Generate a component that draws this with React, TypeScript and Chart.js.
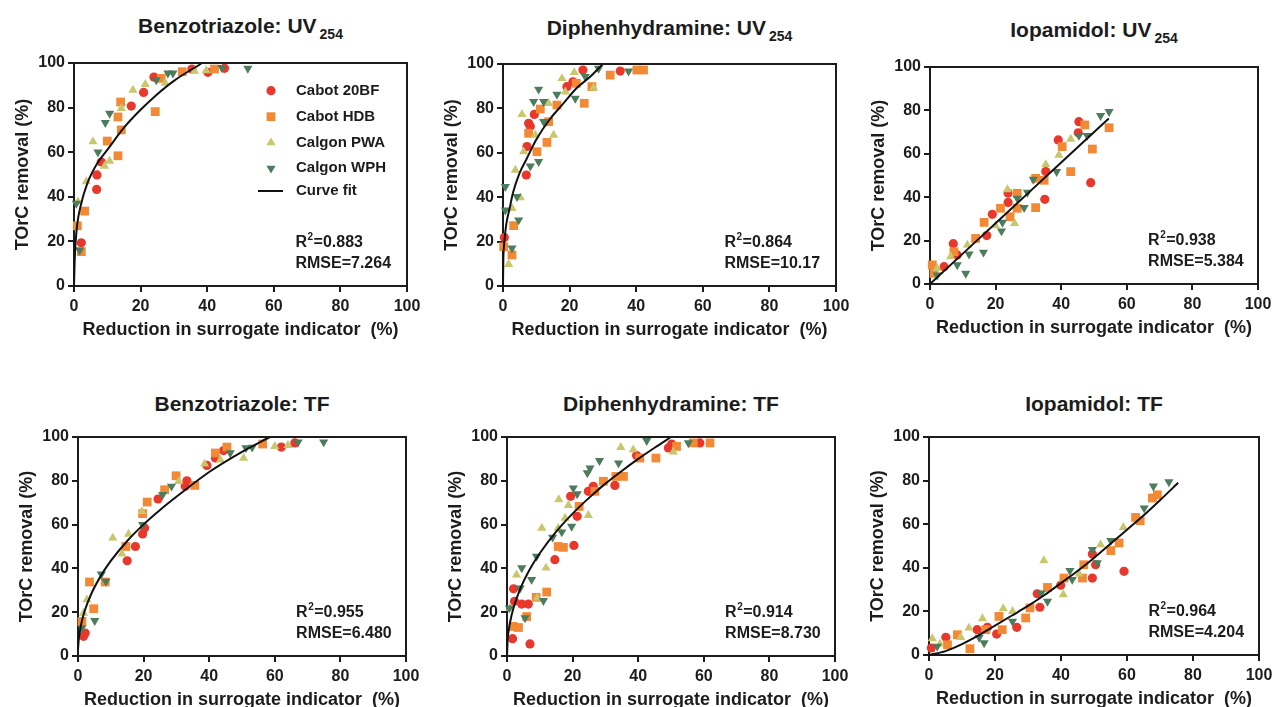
import React, { useEffect, useRef } from "react";
import { Chart, registerables } from "chart.js";
Chart.register(...registerables);

const FONT = "'Liberation Sans', Arial, Helvetica, sans-serif";
const INK = "#1c1c1c";

const SERIES_NAMES = ["Cabot 20BF", "Cabot HDB", "Calgon PWA", "Calgon WPH"];
const SERIES_COLORS = ["#E8372B", "#F28A35", "#C9C66C", "#4D7B5D"];
const FIT_NAME = "Curve fit";
const X_TICKS = [0, 20, 40, 60, 80, 100];
const Y_TICKS = [0, 20, 40, 60, 80, 100];
const X_TITLE = "Reduction in surrogate indicator  (%)";
const Y_TITLE = "TOrC removal (%)";

// ---------- Benzotriazole: UV254 ----------
const btzUV_20BF = [[2.2,19.4],[6.8,43.3],[6.9,49.8],[8.2,55.6],[17.2,80.7],[20.9,86.8],[24,93.7],[35.4,97.3],[40.2,95.8],[45.2,97.6]];
const btzUV_HDB = [[1,27],[2.2,15.4],[3.2,33.6],[10,65],[13.2,58.4],[13.2,75.8],[14,82.5],[14.2,70],[24.4,78.2],[26.2,93.1],[32.5,96.1],[42.2,97.3]];
const btzUV_PWA = [[1.2,37.8],[3.7,46.8],[5.7,64.7],[9.2,53.8],[10.7,56],[14.2,79.7],[17.7,87.9],[21.4,90.4],[27.4,91],[36.2,96.4],[39.7,96.6]];
const btzUV_WPH = [[0.7,37],[1.7,16.1],[7.2,60],[9.4,73.2],[10.7,77.4],[24.7,92.4],[28.2,95.4],[29.7,95.4],[44.4,97.9],[52.2,97.6]];
const btzUV_fitX = [0,0.2,0.5,1,2,4,7,10,15,20,25,30,38.5];
const btzUV_fitY = [0,11,20,28,36,46,55,61,71,79,86,92,100];

// ---------- Diphenhydramine: UV254 ----------
const dphUV_20BF = [[0.4,21.8],[7,50],[7.2,62.8],[7.7,73.3],[8.2,71.8],[9.4,77.3],[19.2,89.8],[21,92],[24,97.3],[35.2,96.8]];
const dphUV_HDB = [[0.2,17.7],[2.7,14],[3.2,27.2],[7.7,68.8],[10.2,60.5],[11.2,79.7],[13.2,64.7],[13.7,74],[16.2,81.5],[22,91.3],[24.4,82.3],[26.7,89.8],[32.2,95],[40.2,97.3],[42.2,97.3]];
const dphUV_PWA = [[1.7,9.8],[2.7,35],[3.7,52.2],[5.2,39.8],[5.7,77.3],[6.2,60.5],[9.7,68],[13.7,82.3],[15.2,68],[17.7,93.5],[18.7,87.5],[21.4,96.2],[27.2,89.3]];
const dphUV_WPH = [[0.7,44.7],[0.7,34.2],[2.7,17],[4.2,40.2],[4.7,29.7],[8.2,54],[9.2,83],[10.7,56],[10.7,88.6],[12.2,83],[12.2,74],[16.2,86.3],[21.7,84.5],[24.7,94.3],[28.7,98],[37.7,96.8]];
const dphUV_fitX = [0,0.1,0.3,0.6,1,2,3,5,7,10,14,18,22,26,30];
const dphUV_fitY = [0,12,18,23,28,35,42,51,57,66,75,82,89,94,100];

// ---------- Iopamidol: UV254 ----------
const iopUV_20BF = [[1.2,7.2],[4.3,8],[7.1,18.6],[8.3,13.4],[17.3,22.3],[19,32.1],[23.8,37.6],[23.8,41.9],[35,39],[35.3,51.8],[39.1,66.4],[45.2,69.7],[45.4,74.8],[49,46.7]];
const iopUV_HDB = [[0.7,8.8],[1.2,4.9],[7.3,14.9],[13.9,21],[16.5,28.4],[21.5,34.9],[24.4,31],[26.6,41.8],[26.6,34.9],[32.2,35.2],[32.2,48.7],[34.8,47.8],[40.3,63.3],[42.9,51.8],[47.2,73.3],[49.5,62.2],[54.6,72]];
const iopUV_PWA = [[2.2,7.2],[6.3,12.6],[11.4,18],[20,26.9],[23.6,43.5],[25.8,28],[35.3,55.1],[39.3,59.4],[42.9,66.8]];
const iopUV_WPH = [[2.2,4.1],[8.3,8.8],[10.9,4.9],[11.9,13.7],[16.3,14.6],[21.8,24.4],[22.1,28.4],[26.6,39.5],[28.7,35.2],[29.7,42.2],[31.5,48.2],[38.6,51.8],[45.4,68.4],[47.9,68.4],[52,77.6],[54.6,79.4]];
const iopUV_fitX = [0,10,20,30,40,54.5];
const iopUV_fitY = [0,14,28,42,56,76.3];

// ---------- Benzotriazole: TF ----------
const btzTF_20BF = [[1.7,9],[2.2,10.5],[15,43.5],[17.5,50],[19.7,55.7],[20.3,58.4],[24.4,71.7],[32.7,77.5],[33.2,80],[39.3,87],[41.9,90.4],[44.4,93.8],[62,95.4],[66.1,97.3]];
const btzTF_HDB = [[1.2,15.8],[3.5,33.8],[4.8,21.6],[8.3,33.8],[14.6,50],[19.7,65],[21.1,70.3],[26.4,75.9],[29.9,82.3],[35.6,77.9],[41.9,92.7],[45.4,95.4],[56.3,96.8]];
const btzTF_PWA = [[1.7,19.6],[2.7,25.7],[10.6,53.9],[13.4,46.6],[15.4,55.7],[19.5,66],[30.7,79.8],[38.6,87.7],[43.4,89.6],[50.5,90.4],[60,95.7],[64,96.2]];
const btzTF_WPH = [[1.2,12.8],[5.1,16.1],[7.1,37.4],[8.5,34.1],[19.7,60],[25.8,73.7],[28.5,77.5],[46.4,92.7],[51.2,95],[53.1,95.3],[67.1,97.7],[74.9,97.7]];
const btzTF_fitX = [0,0.2,0.5,1,2,4,7,10,15,20,25,30,40,50,58.5];
const btzTF_fitY = [3,7,10.6,14.7,20.4,28.2,36.7,43.4,52.5,60.1,66.7,72.7,84,93.2,100];

// ---------- Diphenhydramine: TF ----------
const dphTF_20BF = [[1.7,7.9],[2,30.7],[2.3,25],[4.5,23.7],[6.5,23.7],[7,5.5],[14.6,44],[19.4,72.9],[20.4,50.5],[21.4,63.8],[24.8,75.2],[26.3,77.5],[32.9,77.9],[39.5,91.6],[49.2,95],[50.2,96.8],[58.8,97.3]];
const dphTF_HDB = [[1.9,13.5],[3.5,13],[6,18],[8.9,26.8],[12.1,29.2],[15.6,50],[17.2,49.6],[22,68.3],[26.8,75.2],[29.4,79.8],[33.2,82],[35.5,82],[40.5,90.4],[45.4,90.4],[51.7,95.7],[56.8,97.3],[61.9,97.3]];
const dphTF_PWA = [[0.9,21.9],[2.9,37.1],[9.2,26.5],[10.6,58.4],[11.9,40.2],[15.6,58.4],[15.8,71.4],[17.7,63],[18.7,68.8],[24.8,64.2],[34.7,95.3],[38.5,94.2],[50.7,93.2]];
const dphTF_WPH = [[0.7,21.9],[4,31],[4.5,40.2],[5.5,17.4],[7.5,34.9],[9,45.5],[11.1,25.3],[13.9,54.2],[16.7,56.6],[19.7,59.2],[20.2,76.7],[21.4,74],[24.5,83.6],[25.3,85.8],[28.2,89.2],[34,88.1],[42.6,98.3],[55.3,97.3]];
const dphTF_fitX = [0,0.2,0.5,1,2,4,7,10,15,20,25,30,35,40,45,50];
const dphTF_fitY = [0,7.5,11.5,15.9,22,30.5,39.7,46.9,56.8,65,72.2,78.7,84.5,90,95.1,100];

// ---------- Iopamidol: TF ----------
const iopTF_20BF = [[0.7,3.2],[5.1,8.1],[14.6,11.6],[17.7,12.7],[20.5,9.6],[26.6,12.7],[32.8,28.1],[33.6,21.9],[39.9,32],[49.5,35.3],[49.5,46.3],[50.5,41.4],[59.1,38.4]];
const iopTF_HDB = [[5.6,4.7],[8.6,9.3],[12.4,2.9],[17.2,11.6],[21.2,17.7],[22.2,11.6],[29.3,17],[30.6,21.6],[35.9,31],[40.9,35.3],[46.5,35.3],[46.9,41.4],[55.1,47.9],[57.6,51.4],[62.6,63.1],[64,61.6],[67.7,72],[69.2,73.5]];
const iopTF_PWA = [[1,7.5],[3.3,5],[9.6,8.1],[12.1,12.4],[16.2,16.7],[22.5,21.3],[25.3,20],[34.8,43.3],[40.7,27.7],[45.5,37.2],[52,50.6],[58.9,58.6]];
const iopTF_WPH = [[2.5,4],[15.2,8.1],[16.7,5.5],[25.3,15.4],[34,28.4],[35.9,24.6],[42.7,38.7],[43.4,34.6],[49.5,48.3],[51,42.2],[55.1,52.4],[65.2,67.4],[68,77.4],[72.7,79.4]];
const iopTF_fitX = [0,5,10,15,20,25,30,35,40,45,50,55,60,65,70,75.5];
const iopTF_fitY = [0,1.8,5,9,13.5,18,22.5,27.5,33,38.5,44.5,51,57.5,64,71,79];

const TITLES = ["Benzotriazole: UV", "Diphenhydramine: UV", "Iopamidol: UV", "Benzotriazole: TF", "Diphenhydramine: TF", "Iopamidol: TF"];
const TITLE_SUBS = ["254", "254", "254", "", "", ""];
const R2_VALUES = ["0.883", "0.864", "0.938", "0.955", "0.914", "0.964"];
const RMSE_VALUES = ["7.264", "10.17", "5.384", "6.480", "8.730", "4.204"];

const PANEL_SERIES = [
  [btzUV_20BF, btzUV_HDB, btzUV_PWA, btzUV_WPH],
  [dphUV_20BF, dphUV_HDB, dphUV_PWA, dphUV_WPH],
  [iopUV_20BF, iopUV_HDB, iopUV_PWA, iopUV_WPH],
  [btzTF_20BF, btzTF_HDB, btzTF_PWA, btzTF_WPH],
  [dphTF_20BF, dphTF_HDB, dphTF_PWA, dphTF_WPH],
  [iopTF_20BF, iopTF_HDB, iopTF_PWA, iopTF_WPH],
];
const PANEL_FITS = [
  [btzUV_fitX, btzUV_fitY],
  [dphUV_fitX, dphUV_fitY],
  [iopUV_fitX, iopUV_fitY],
  [btzTF_fitX, btzTF_fitY],
  [dphTF_fitX, dphTF_fitY],
  [iopTF_fitX, iopTF_fitY],
];

// layout (plot-area boxes in page pixels): left, right, top, bottom
const BOXES = [
  [74, 407, 63, 286],
  [503, 836, 64, 286],
  [930, 1258, 67, 284],
  [78, 406, 437, 656],
  [507, 835, 437, 656],
  [929, 1259, 437, 655],
];
const TITLE_CAP_Y = [26, 28, 29.5, 404, 404, 404];

const YW = 74, XH = 55, PT = 12, PR = 15;

function markerPath(ctx: CanvasRenderingContext2D, kind: number, x: number, y: number) {
  ctx.beginPath();
  if (kind === 0) ctx.arc(x, y, 4.6, 0, Math.PI * 2);
  else if (kind === 1) ctx.rect(x - 4.4, y - 4.4, 8.8, 8.8);
  else if (kind === 2) { ctx.moveTo(x, y - 5.3); ctx.lineTo(x + 4.6, y + 2.65); ctx.lineTo(x - 4.6, y + 2.65); ctx.closePath(); }
  else { ctx.moveTo(x, y + 5.3); ctx.lineTo(x + 4.6, y - 2.65); ctx.lineTo(x - 4.6, y - 2.65); ctx.closePath(); }
}

function Panel({ idx }: { idx: number }) {
  const ref = useRef<HTMLCanvasElement>(null);
  const [l, r, t, b] = BOXES[idx];
  const w = r - l + YW + PR;
  const h = b - t + PT + XH;

  useEffect(() => {
    const canvas = ref.current!;
    const series = PANEL_SERIES[idx];
    const [fx, fy] = PANEL_FITS[idx];
    const styles: any[] = [
      { pointStyle: "circle", pointRadius: 4.6, rotation: 0 },
      { pointStyle: "rect", pointRadius: 6.2, rotation: 0 },
      { pointStyle: "triangle", pointRadius: 5.3, rotation: 0 },
      { pointStyle: "triangle", pointRadius: 5.3, rotation: 180 },
    ];
    const scatterSets = series.map((pts, i) => ({
      label: SERIES_NAMES[i],
      data: pts.map(([x, y]) => ({ x, y })),
      backgroundColor: SERIES_COLORS[i],
      borderColor: SERIES_COLORS[i],
      borderWidth: 0,
      pointStyle: styles[i].pointStyle,
      pointRadius: styles[i].pointRadius,
      pointRotation: styles[i].rotation,
      showLine: false,
      clip: false as any,
    }));
    const fitSet = {
      label: FIT_NAME,
      data: fx.map((x, i) => ({ x, y: fy[i] })),
      showLine: true,
      borderColor: "#111",
      borderWidth: 2,
      pointRadius: 0,
      cubicInterpolationMode: "monotone",
      fill: false,
      clip: false as any,
    };
    const tickFont = { family: FONT, size: 16, weight: "bold" as const };
    const titleFont = { family: FONT, size: 18, weight: "bold" as const, lineHeight: 1.2 };

    const overlay = {
      id: "overlay" + idx,
      afterDraw(chart: any) {
        const { ctx, chartArea } = chart;
        const { left, right, top, bottom } = chartArea;
        ctx.save();
        ctx.strokeStyle = INK;
        ctx.lineWidth = 2;
        ctx.beginPath();
        ctx.moveTo(left, top);
        ctx.lineTo(right, top);
        ctx.lineTo(right, bottom);
        ctx.stroke();

        // statistics
        const sx = left + (right - left) * 0.665;
        const y1 = bottom - 43;
        const y2 = bottom - 22;
        ctx.fillStyle = INK;
        ctx.textBaseline = "middle";
        ctx.textAlign = "left";
        ctx.font = `bold 16px ${FONT}`;
        ctx.fillText("R", sx, y1);
        const rw = ctx.measureText("R").width;
        ctx.font = `bold 10px ${FONT}`;
        ctx.fillText("2", sx + rw + 0.5, y1 - 6);
        const tw = ctx.measureText("2").width;
        ctx.font = `bold 16px ${FONT}`;
        ctx.fillText("=" + R2_VALUES[idx], sx + rw + tw + 1, y1);
        ctx.fillText("RMSE=" + RMSE_VALUES[idx], sx, y2);

        if (idx === 0) {
          const mx = left + 197;
          const tx = left + 222;
          const rows = [27.7, 53.7, 79.7, 105.3, 128];
          ctx.font = `bold 15px ${FONT}`;
          for (let i = 0; i < 4; i++) {
            ctx.fillStyle = SERIES_COLORS[i];
            markerPath(ctx, i, mx, top + rows[i]);
            ctx.fill();
            ctx.fillStyle = INK;
            ctx.fillText(SERIES_NAMES[i], tx, top + rows[i]);
          }
          ctx.strokeStyle = "#111";
          ctx.lineWidth = 2;
          ctx.beginPath();
          ctx.moveTo(left + 184, top + rows[4]);
          ctx.lineTo(left + 209, top + rows[4]);
          ctx.stroke();
          ctx.fillText(FIT_NAME, tx, top + rows[4]);
        }
        ctx.restore();
      },
    };

    const chart = new Chart(canvas, {
      type: "scatter",
      data: { datasets: [fitSet as any, ...scatterSets.slice().reverse()] },
      options: {
        animation: false,
        responsive: false,
        maintainAspectRatio: false,
        devicePixelRatio: 1,
        layout: { padding: { top: PT, right: PR, left: 0, bottom: 0 } },
        plugins: { legend: { display: false }, tooltip: { enabled: false }, title: { display: false } },
        scales: {
          x: {
            type: "linear",
            min: 0,
            max: 100,
            afterBuildTicks: (s: any) => { s.ticks = X_TICKS.map((v) => ({ value: v })); },
            ticks: { font: tickFont, color: INK, padding: 5, maxRotation: 0, autoSkip: false },
            grid: { display: true, drawOnChartArea: false, drawTicks: true, tickLength: 6, lineWidth: 2, color: INK },
            border: { display: true, width: 2, color: INK },
            title: { display: true, text: X_TITLE, font: titleFont, color: INK, padding: { top: 0, bottom: 0 } },
            afterFit: (s: any) => { s.height = XH; s.paddingLeft = 0; s.paddingRight = 0; },
          },
          y: {
            type: "linear",
            min: 0,
            max: 100,
            afterBuildTicks: (s: any) => { s.ticks = Y_TICKS.map((v) => ({ value: v })); },
            ticks: { font: tickFont, color: INK, padding: 3, autoSkip: false },
            grid: { display: true, drawOnChartArea: false, drawTicks: true, tickLength: 6, lineWidth: 2, color: INK },
            border: { display: true, width: 2, color: INK },
            title: { display: true, text: Y_TITLE, font: titleFont, color: INK, padding: { top: 12, bottom: 0 } },
            afterFit: (s: any) => { s.width = YW; s.paddingTop = 0; s.paddingBottom = 0; },
          },
        },
      } as any,
      plugins: [overlay],
    });
    return () => chart.destroy();
  }, [idx]);

  return (
    <>
      <canvas
        ref={ref}
        width={w}
        height={h}
        style={{ position: "absolute", left: l - YW, top: t - PT, width: w, height: h }}
      />
      <div
        style={{
          position: "absolute",
          left: (l + r) / 2 - 200,
          width: 400,
          top: TITLE_CAP_Y[idx] - 11.7,
          textAlign: "center",
          font: `bold 21px/24px ${FONT}`,
          color: INK,
          whiteSpace: "nowrap",
        }}
      >
        {TITLES[idx]}
        {TITLE_SUBS[idx] ? (
          <span style={{ fontSize: 14, position: "relative", top: 6, marginLeft: 3, lineHeight: 0 }}>{TITLE_SUBS[idx]}</span>
        ) : null}
      </div>
    </>
  );
}

export default function App() {
  return (
    <div style={{ position: "absolute", left: 0, top: 0, width: 1273, height: 707, overflow: "hidden", background: "#fff" }}>
      {[0, 1, 2, 3, 4, 5].map((i) => (
        <Panel key={i} idx={i} />
      ))}
    </div>
  );
}
